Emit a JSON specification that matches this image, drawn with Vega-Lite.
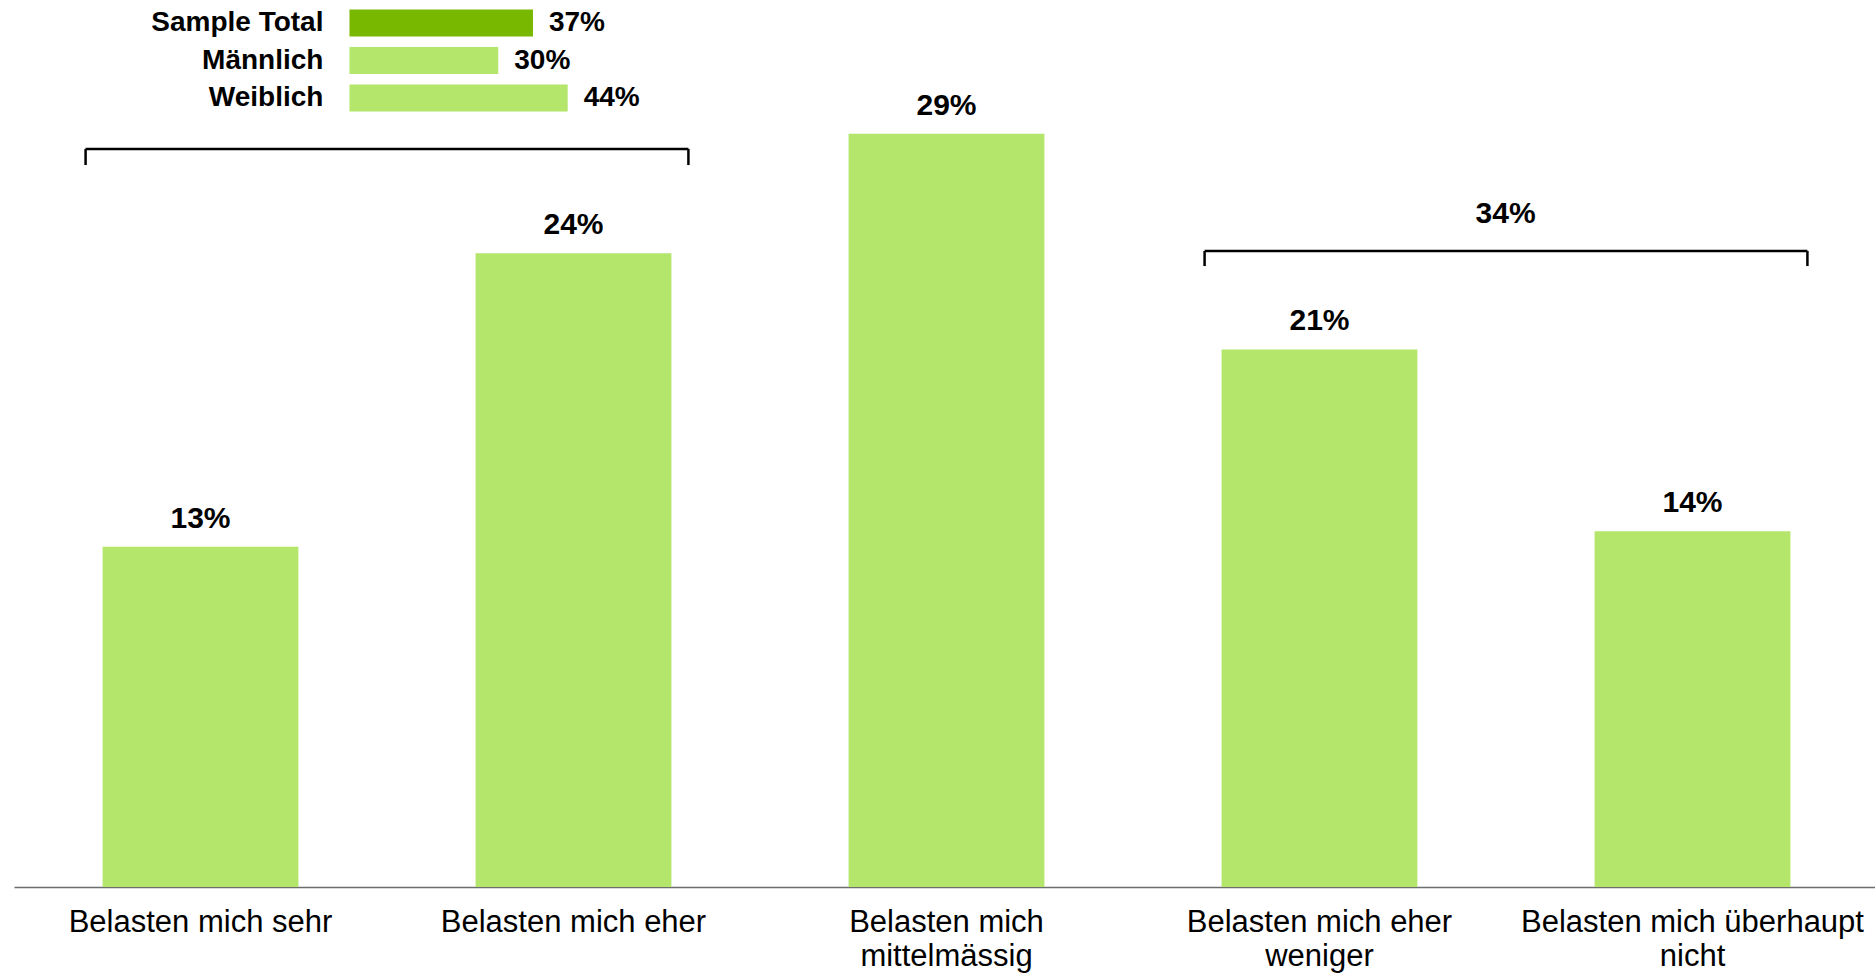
{
  "$schema": "https://vega.github.io/schema/vega-lite/v6.json",
  "autosize": "none",
  "width": 1865,
  "height": 887,
  "padding": {"left": 14, "top": 0, "right": 0, "bottom": 86},
  "background": "white",
  "config": {"view": {"stroke": null}, "font": "Liberation Sans"},
  "datasets": {
    "bars": [
      {"cat": "Belasten mich sehr", "value": 13.1, "label": "13%"},
      {"cat": "Belasten mich eher", "value": 24.4, "label": "24%"},
      {"cat": "Belasten mich mittelmässig", "value": 29.0, "label": "29%"},
      {"cat": "Belasten mich eher weniger", "value": 20.7, "label": "21%"},
      {"cat": "Belasten mich überhaupt nicht", "value": 13.7, "label": "14%"}
    ],
    "brackets": [
      {"from": "Belasten mich sehr", "to": "Belasten mich eher", "level": 28.42, "tick": 27.8, "label": ""},
      {"from": "Belasten mich eher weniger", "to": "Belasten mich überhaupt nicht", "level": 24.49, "tick": 23.91, "label": "34%"}
    ],
    "legend": [
      {"group": "Sample Total", "value": 37, "label": "37%"},
      {"group": "Männlich", "value": 30, "label": "30%"},
      {"group": "Weiblich", "value": 44, "label": "44%"}
    ]
  },
  "resolve": {"scale": {"x": "independent", "y": "independent", "color": "independent"}},
  "layer": [
    {
      "encoding": {
        "x": {
          "field": "cat", "type": "nominal", "sort": null,
          "scale": {"type": "band", "paddingInner": 0.475, "paddingOuter": 0.2375,
            "domain": ["Belasten mich sehr", "Belasten mich eher", "Belasten mich mittelmässig", "Belasten mich eher weniger", "Belasten mich überhaupt nicht"]},
          "axis": {
            "title": null, "ticks": false, "tickSize": 0, "labelAngle": 0,
            "labelFont": "Liberation Sans", "labelFontSize": 31, "labelColor": "#000000",
            "labelPadding": 20, "labelLineHeight": 34, "labelLimit": 500, "labelOverlap": false,
            "domainColor": "#6e6e6e", "domainWidth": 1.5, "grid": false,
            "labelExpr": "datum.value == 'Belasten mich mittelmässig' ? ['Belasten mich', 'mittelmässig'] : datum.value == 'Belasten mich eher weniger' ? ['Belasten mich eher', 'weniger'] : datum.value == 'Belasten mich überhaupt nicht' ? ['Belasten mich überhaupt', 'nicht'] : datum.value"
          }
        },
        "y": {"type": "quantitative", "scale": {"domain": [0, 34.155], "nice": false, "zero": true}, "axis": null}
      },
      "layer": [
        {
          "data": {"name": "bars"},
          "mark": {"type": "bar", "color": "#b3e66b"},
          "encoding": {"y": {"field": "value", "type": "quantitative"}}
        },
        {
          "data": {"name": "bars"},
          "mark": {"type": "text", "font": "Liberation Sans", "fontWeight": "bold", "fontSize": 30, "color": "#000000", "baseline": "alphabetic", "align": "center", "dy": -19},
          "encoding": {"y": {"field": "value", "type": "quantitative"}, "text": {"field": "label"}}
        },
        {
          "data": {"name": "brackets"},
          "mark": {"type": "rule", "color": "#000000", "strokeWidth": 2.5, "xOffset": -17, "x2Offset": 17},
          "encoding": {
            "x": {"field": "from", "type": "nominal", "bandPosition": 0},
            "x2": {"field": "to", "bandPosition": 1},
            "y": {"field": "level", "type": "quantitative"}
          }
        },
        {
          "data": {"name": "brackets"},
          "mark": {"type": "rule", "color": "#000000", "strokeWidth": 2.5, "xOffset": -17},
          "encoding": {
            "x": {"field": "from", "type": "nominal", "bandPosition": 0},
            "y": {"field": "level", "type": "quantitative"},
            "y2": {"field": "tick"}
          }
        },
        {
          "data": {"name": "brackets"},
          "mark": {"type": "rule", "color": "#000000", "strokeWidth": 2.5, "xOffset": 17},
          "encoding": {
            "x": {"field": "to", "type": "nominal", "bandPosition": 1},
            "y": {"field": "level", "type": "quantitative"},
            "y2": {"field": "tick"}
          }
        },
        {
          "data": {"name": "brackets"},
          "mark": {"type": "text", "font": "Liberation Sans", "fontWeight": "bold", "fontSize": 30, "color": "#000000", "baseline": "alphabetic", "align": "center", "dx": -89, "dy": -28},
          "encoding": {
            "x": {"field": "to", "type": "nominal", "bandPosition": 0},
            "y": {"field": "level", "type": "quantitative"},
            "text": {"field": "label"}
          }
        }
      ]
    },
    {
      "data": {"name": "legend"},
      "encoding": {
        "x": {"type": "quantitative", "scale": {"domain": [-67.64, 308.4], "nice": false, "zero": false}, "axis": null},
        "y": {"field": "group", "type": "nominal", "sort": null,
          "scale": {"type": "band", "domain": ["Sample Total", "Männlich", "Weiblich"], "range": [9.5, 111.5], "paddingInner": 0.28, "paddingOuter": 0},
          "axis": null}
      },
      "layer": [
        {
          "mark": {"type": "bar"},
          "encoding": {
            "x": {"field": "value", "type": "quantitative"},
            "color": {"field": "group", "type": "nominal", "legend": null,
              "scale": {"domain": ["Sample Total", "Männlich", "Weiblich"], "range": ["#78b800", "#b3e66b", "#b3e66b"]}}
          }
        },
        {
          "mark": {"type": "text", "font": "Liberation Sans", "fontWeight": "bold", "fontSize": 28, "color": "#000000", "baseline": "middle", "align": "right", "dx": -26},
          "encoding": {"x": {"datum": 0, "type": "quantitative"}, "text": {"field": "group"}}
        },
        {
          "mark": {"type": "text", "font": "Liberation Sans", "fontWeight": "bold", "fontSize": 28, "color": "#000000", "baseline": "middle", "align": "left", "dx": 16},
          "encoding": {"x": {"field": "value", "type": "quantitative"}, "text": {"field": "label"}}
        }
      ]
    }
  ]
}
